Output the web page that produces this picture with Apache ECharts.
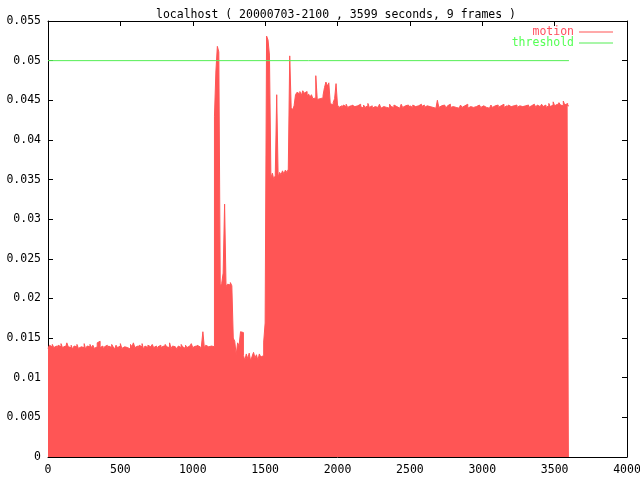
<!DOCTYPE html>
<html><head><meta charset="utf-8">
<script src="https://cdn.jsdelivr.net/npm/echarts@6.0.0/dist/echarts.min.js"></script>
<style>html,body{margin:0;padding:0;background:#fff}#c{width:640px;height:480px}</style>
</head><body><div id="c"></div>
<script>
const chartTitle = 'localhost ( 20000703-2100 , 3599 seconds, 9 frames )';
const seriesNames = ['motion', 'threshold'];
const sampleStep = 10;      // seconds between samples
const endTime = 3599;
const thresholdValue = 0.05;
const xTickValues = [0, 500, 1000, 1500, 2000, 2500, 3000, 3500, 4000];
const yTickValues = [0, 0.005, 0.01, 0.015, 0.02, 0.025, 0.03, 0.035, 0.04, 0.045, 0.05, 0.055];

// motion value at t = 0, 10, 20, ... 3590 s
const motionBaseline = [
0.0137,0.0141,0.0139,0.0142,0.0138,0.0140,0.0136,0.0141,0.0139,0.0143,
0.0138,0.0140,0.0137,0.0144,0.0139,0.0138,0.0141,0.0136,0.0140,0.0139,
0.0142,0.0137,0.0139,0.0141,0.0138,0.0143,0.0136,0.0140,0.0139,0.0142,
0.0138,0.0141,0.0137,0.0139,0.0144,0.0146,0.0138,0.0140,0.0136,0.0139,
0.0141,0.0137,0.0140,0.0138,0.0142,0.0139,0.0136,0.0141,0.0138,0.0140,
0.0143,0.0137,0.0139,0.0141,0.0138,0.0140,0.0136,0.0142,0.0139,0.0144,
0.0138,0.0140,0.0137,0.0141,0.0139,0.0143,0.0136,0.0140,0.0138,0.0141,
0.0139,0.0137,0.0142,0.0138,0.0140,0.0135,0.0139,0.0141,0.0138,0.0140,
0.0137,0.0142,0.0139,0.0138,0.0144,0.0137,0.0140,0.0139,0.0141,0.0136,
0.0140,0.0138,0.0142,0.0139,0.0137,0.0141,0.0138,0.0140,0.0139,0.0143,
0.0138,0.0140,0.0137,0.0141,0.0139,0.0136,0.0140,0.0158,0.0138,0.0141,
0.0139,0.0137,0.0140,0.0142,0.0139];
const motionFirstBurst = [0.0430,0.0487,0.0518,0.0511,0.0216,0.0219,0.0232,0.0319,0.0215,0.0218,0.0217,0.0220,0.0216];
const motionLull = [0.0150,0.0146,0.0129,0.0144,0.0140,0.0158,0.0157,0.0128,0.0122,0.0130,0.0124,0.0131,0.0121,0.0127,0.0132,0.0125,0.0129,0.0122,0.0130,0.0126,0.0128,0.0145,0.0169];
const motionSecondBurst = [0.0531,0.0526,0.0507];
const motionMiddle = [0.0352,0.0358,0.0350,0.0355,0.0457,0.0353,0.0359,0.0356,0.0361,0.0357,0.0362,0.0359,0.0363];
const motionRise = [0.0506,0.0441,0.0438,0.0443,0.0457,0.0460,0.0458,0.0461,0.0456,0.0462,0.0459,0.0461,0.0455,0.0458,0.0454,0.0457,0.0452,0.0453,0.0481,0.0451,0.0452,0.0450,0.0453,0.0456,0.0466,0.0473,0.0468,0.0472,0.0446,0.0444,0.0447,0.0452,0.0471,0.0444];
const motionHigh = [
0.0441,0.0443,0.0440,0.0444,0.0442,0.0445,0.0441,0.0443,0.0439,0.0444,
0.0442,0.0440,0.0443,0.0441,0.0445,0.0442,0.0440,0.0444,0.0441,0.0443,
0.0446,0.0441,0.0443,0.0440,0.0442,0.0444,0.0441,0.0443,0.0445,0.0440,
0.0442,0.0444,0.0441,0.0443,0.0440,0.0445,0.0442,0.0441,0.0444,0.0442,
0.0443,0.0440,0.0442,0.0445,0.0441,0.0443,0.0442,0.0444,0.0440,0.0443,
0.0441,0.0444,0.0442,0.0440,0.0443,0.0441,0.0445,0.0442,0.0444,0.0441,
0.0443,0.0441,0.0442,0.0444,0.0441,0.0443,0.0440,0.0442,0.0450,0.0441,
0.0443,0.0441,0.0444,0.0442,0.0440,0.0443,0.0445,0.0441,0.0442,0.0444,
0.0441,0.0443,0.0440,0.0442,0.0444,0.0441,0.0443,0.0442,0.0445,0.0440,
0.0442,0.0444,0.0441,0.0443,0.0442,0.0440,0.0444,0.0442,0.0441,0.0443,
0.0445,0.0441,0.0443,0.0440,0.0442,0.0444,0.0441,0.0443,0.0442,0.0444,
0.0441,0.0443,0.0442,0.0445,0.0441,0.0443,0.0440,0.0444,0.0442,0.0441,
0.0443,0.0442,0.0444,0.0441,0.0443,0.0445,0.0442,0.0440,0.0443,0.0442,
0.0444,0.0441,0.0443,0.0442,0.0445,0.0443,0.0441,0.0444,0.0442,0.0443,
0.0445,0.0442,0.0444,0.0441,0.0443,0.0446,0.0442,0.0444,0.0448,0.0443,
0.0445,0.0442,0.0447,0.0444,0.0443,0.0449,0.0444,0.0446,0.0443];

const motion = [].concat(motionBaseline, motionFirstBurst, motionLull, motionSecondBurst, motionMiddle, motionRise, motionHigh);
const motionData = motion.map((v, i) => [i * sampleStep, v]);
motionData.push([endTime, motion[motion.length - 1]]);
const thresholdData = [[0, thresholdValue], [endTime, thresholdValue]];

const FONT = 'DejaVu Sans Mono';
const FS = 11.5;
const RED = '#ff5555';
const GREEN = '#55ee55';
const fmtY = v => String(+(+v).toFixed(3));
const fmtX = v => String(Math.round(v));

const xBase = {
  type: 'value', min: xTickValues[0], max: xTickValues[xTickValues.length - 1],
  interval: xTickValues[1] - xTickValues[0],
  axisLine: { show: true, onZero: false, lineStyle: { color: '#000', width: 1 } },
  axisTick: { show: true, inside: true, length: 5, lineStyle: { color: '#000' } },
  splitLine: { show: false }
};
const yBase = {
  type: 'value', min: yTickValues[0], max: yTickValues[yTickValues.length - 1],
  interval: yTickValues[1] - yTickValues[0],
  axisLine: { show: true, onZero: false, lineStyle: { color: '#000', width: 1 } },
  axisTick: { show: true, inside: true, length: 5, lineStyle: { color: '#000' } },
  splitLine: { show: false }
};

const chart = echarts.init(document.getElementById('c'), null, { renderer: 'canvas' });
chart.setOption({
  animation: false,
  backgroundColor: '#fff',
  title: {
    text: chartTitle, left: 151, top: 4,
    textStyle: { fontFamily: FONT, fontSize: FS, fontWeight: 'normal', color: '#000' }
  },
  legend: {
    orient: 'vertical', right: 27, top: 26, align: 'right', padding: 0,
    itemWidth: 34, itemHeight: 1, itemGap: -1, icon: 'rect',
    selectedMode: false,
    textStyle: { fontFamily: FONT, fontSize: FS },
    data: [
      { name: seriesNames[0], textStyle: { color: '#ff4f5f' } },
      { name: seriesNames[1], textStyle: { color: '#55ff55' } }
    ]
  },
  grid: { left: 48, right: 13, top: 21, bottom: 23, containLabel: false, outerBoundsMode: 'none' },
  xAxis: [
    Object.assign({}, xBase, { position: 'bottom',
      axisLabel: { show: true, margin: 7, color: '#000', fontFamily: FONT, fontSize: FS, formatter: fmtX } }),
    Object.assign({}, xBase, { position: 'top', axisLabel: { show: false } })
  ],
  yAxis: [
    Object.assign({}, yBase, { position: 'left',
      axisLabel: { show: true, margin: 7, color: '#000', fontFamily: FONT, fontSize: FS, formatter: fmtY } }),
    Object.assign({}, yBase, { position: 'right', axisLabel: { show: false } })
  ],
  series: [
    {
      name: seriesNames[0], type: 'line', step: 'end', data: motionData,
      xAxisIndex: 0, yAxisIndex: 0, symbol: 'none', silent: true,
      itemStyle: { color: RED },
      lineStyle: { color: RED, width: 1 },
      areaStyle: { color: RED, opacity: 1 },
      z: 2
    },
    {
      name: seriesNames[1], type: 'line', data: thresholdData,
      xAxisIndex: 0, yAxisIndex: 0, symbol: 'none', silent: true,
      itemStyle: { color: GREEN },
      lineStyle: { color: GREEN, width: 1 },
      z: 3
    }
  ]
});
</script>
</body></html>
